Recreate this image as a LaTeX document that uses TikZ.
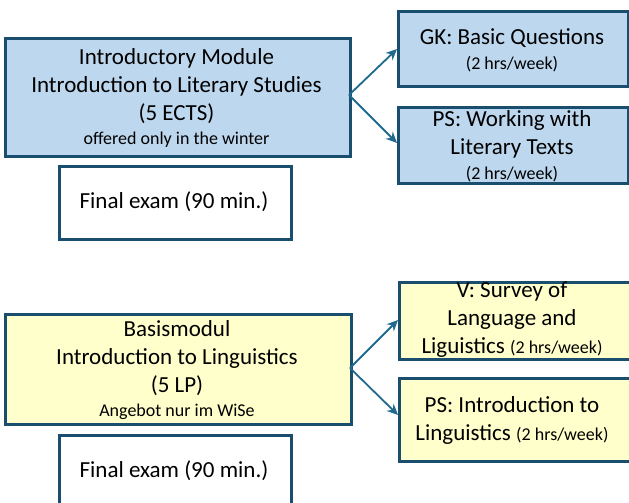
\documentclass[tikz,border=0pt]{standalone}
\usepackage{fontspec}
\setmainfont{Carlito}
\usetikzlibrary{arrows.meta}
\definecolor{bordc}{HTML}{1A4E6E}
\definecolor{arrc}{HTML}{1F6A8E}
\definecolor{bluef}{HTML}{BDD7EE}
\definecolor{yellf}{HTML}{FFFFCC}
\newcommand{\bigf}{\fontsize{23}{28}\selectfont}
\newcommand{\smallf}{\fontsize{18}{24}\selectfont}
\tikzset{
  box/.style={draw=bordc, line width=3pt, inner sep=0pt, anchor=north west},
  bluebox/.style={box, fill=bluef},
  yellbox/.style={box, fill=yellf},
  whitebox/.style={box, fill=white},
  txt/.style={align=center, inner sep=0pt, font=\bigf},
  conn/.style={draw=arrc, line width=1.8pt, -{Stealth[length=11pt,width=10pt]}}
}
\begin{document}
\begin{tikzpicture}[x=1pt,y=-1pt]
\clip (0,0) rectangle (629,503);
\fill[white] (0,0) rectangle (629,503);
% top section
\node[bluebox, minimum width=345, minimum height=118] (intro) at (4,37) {};
\node[bluebox, minimum width=230, minimum height=75] (gk) at (397,10) {};
\node[bluebox, minimum width=230, minimum height=76] (ps1) at (397,106) {};
\node[whitebox, minimum width=232, minimum height=73] (exam1) at (58,165) {};
\node[txt] (introt) at (176.5,98) {Introductory Module\\Introduction to Literary Studies\\(5 ECTS)\\[-4pt]{\smallf offered only in the winter}};
\node[txt] (gkt) at (512,50) {GK: Basic Questions\\[-3pt]{\smallf (2 hrs/week)}};
\node[txt] (ps1t) at (512,146) {PS: Working with\\Literary Texts\\[-3pt]{\smallf (2 hrs/week)}};
\node[txt] (exam1t) at (174,202) {Final exam (90 min.)};
\coordinate (o1) at (349,95);
\draw[conn] (o1) -- (gk.west |- 0,49);
\draw[conn] (o1) -- (ps1.west |- 0,143);
% bottom section
\node[yellbox, minimum width=346, minimum height=110] (basis) at (4,313) {};
\node[yellbox, minimum width=231, minimum height=77] (v) at (398,281) {};
\node[yellbox, minimum width=231, minimum height=83] (ps2) at (398,377) {};
\node[whitebox, minimum width=232, minimum height=74] (exam2) at (58,434) {};
\node[txt] (basist) at (177,370) {Basismodul\\Introduction to Linguistics\\(5 LP)\\[-4pt]{\smallf Angebot nur im WiSe}};
\node[txt] (vt) at (512,320) {V: Survey of\\Language and\\Liguistics {\smallf (2 hrs/week)}};
\node[txt] (ps2t) at (512,420) {PS: Introduction to\\Linguistics {\smallf (2 hrs/week)}};
\node[txt] (exam2t) at (174,471) {Final exam (90 min.)};
\coordinate (o2) at (350,368);
\draw[conn] (o2) -- (v.west |- 0,320);
\draw[conn] (o2) -- (ps2.west |- 0,415);
\end{tikzpicture}
\end{document}
